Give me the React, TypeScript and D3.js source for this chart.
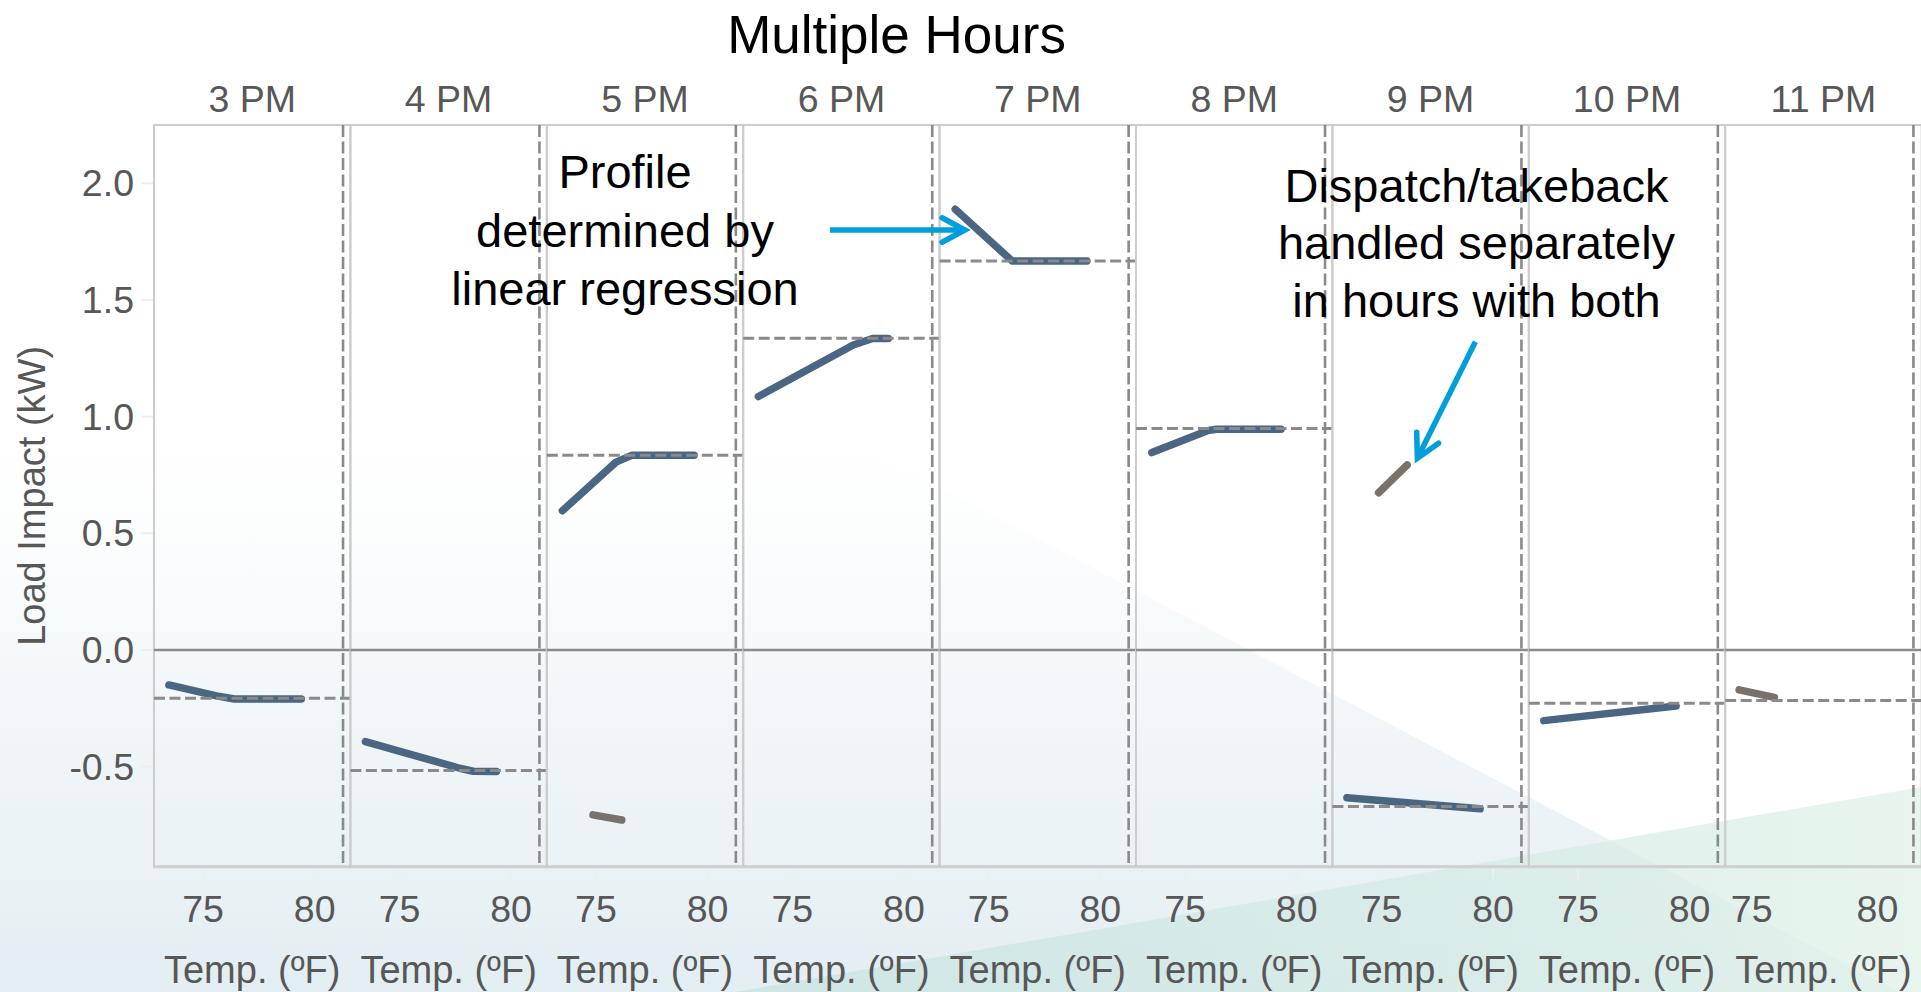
import React from "react";
import * as d3 from "d3";

// ---------- data ----------
const HOURS = ["3 PM", "4 PM", "5 PM", "6 PM", "7 PM", "8 PM", "9 PM", "10 PM", "11 PM"];
const TEMP_MIN = [73.2, 73.2, 73.2, 73.2, 73.2, 73.2, 73.2, 73.2, 74.3];
const TEMP_MAX = [81.2, 81.2, 81.2, 81.2, 81.2, 81.2, 81.2, 81.2, 81.4];
const CUTOFF_TEMP = [81.27, 81.27, 81.27, 81.27, 81.27, 81.27, 81.27, 81.27, 81.43];
const BASELINE = [-0.207, -0.517, 0.835, 1.336, 1.667, 0.949, -0.671, -0.228, -0.217];
const X_TICKS = [75, 80];
const Y_TICKS = [-0.5, 0.0, 0.5, 1.0, 1.5, 2.0];
const Y_DOMAIN = [-0.929, 2.25];

// dispatch profile (temperature, load impact)
const PROFILE: [number, number][][] = [
  [[73.47, -0.15], [75.6, -0.197], [76.4, -0.21], [79.4, -0.21]],
  [[73.47, -0.393], [77.7, -0.507], [78.3, -0.52], [79.34, -0.521]],
  [[73.5, 0.597], [75.9, 0.805], [76.6, 0.834], [79.4, 0.834]],
  [[73.48, 1.086], [77.73, 1.307], [78.6, 1.335], [79.3, 1.335]],
  [[73.5, 1.889], [76.05, 1.667], [79.4, 1.667]],
  [[73.51, 0.846], [76.0, 0.94], [76.4, 0.946], [79.3, 0.946]],
  [[73.45, -0.633], [79.42, -0.681]],
  [[73.47, -0.303], [79.4, -0.24]],
  [],
];
// takeback segments
const TAKEBACK: [number, number][][] = [
  [],
  [],
  [[74.87, -0.707], [76.16, -0.729]],
  [],
  [],
  [],
  [[74.87, 0.674], [76.15, 0.793]],
  [],
  [[74.5, -0.171], [75.9, -0.203]],
];

const TITLE = "Multiple Hours";
const Y_TITLE = "Load Impact (kW)";
const X_TITLE = "Temp. (ºF)";
const NOTE1 = ["Profile", "determined by", "linear regression"];
const NOTE2 = ["Dispatch/takeback", "handled separately", "in hours with both"];

// ---------- layout ----------
const W = 1921;
const H = 992;
const PLOT_LEFT = 154;
const PANEL_W = 196.4;
const PLOT_TOP = 125;
const PLOT_BOTTOM = 866.7;
const FONT = "'Liberation Sans', Arial, Helvetica, sans-serif";
const BLUE = "#4B6682";
const BROWN = "#7A716A";
const ARROW = "#009FDB";
const TEXT_GREY = "#575757";

function arrowHead(x0: number, y0: number, x1: number, y1: number, len: number, ang: number) {
  const dx = x0 - x1, dy = y0 - y1;
  const L = Math.hypot(dx, dy);
  const ux = dx / L, uy = dy / L;
  const r = (a: number) => [x1 + len * (ux * Math.cos(a) - uy * Math.sin(a)), y1 + len * (ux * Math.sin(a) + uy * Math.cos(a))];
  const p1 = r(ang), p2 = r(-ang);
  return `M${p1[0]},${p1[1]}L${x1},${y1}L${p2[0]},${p2[1]}`;
}

export default function App() {
  const y = d3.scaleLinear().domain(Y_DOMAIN).range([PLOT_BOTTOM, PLOT_TOP]);
  const panels = HOURS.map((h, i) => {
    const left = PLOT_LEFT + i * PANEL_W;
    const pad = (TEMP_MAX[i] - TEMP_MIN[i]) * 0.05;
    const x = d3.scaleLinear().domain([TEMP_MIN[i] - pad, TEMP_MAX[i] + pad]).range([left, left + PANEL_W]);
    return { h, i, left, x };
  });

  const arrows = [
    { x0: 830, y0: 230, x1: 965, y1: 230 },
    { x0: 1475.4, y0: 341.7, x1: 1417.4, y1: 458.3 },
  ];

  return (
    <svg width={W} height={H} style={{ position: "absolute", left: 0, top: 0, display: "block" }} fontFamily={FONT}>
      <defs>
        <linearGradient id="tint" gradientUnits="userSpaceOnUse" x1="0" y1="380" x2="0" y2="992">
          <stop offset="0" stopColor="#FFFFFF" stopOpacity="0" />
          <stop offset="0.5" stopColor="#F1F6F8" stopOpacity="0.9" />
          <stop offset="1" stopColor="#E3EEF2" stopOpacity="1" />
        </linearGradient>
        <linearGradient id="teal" gradientUnits="userSpaceOnUse" x1="735" y1="0" x2="1921" y2="0">
          <stop offset="0" stopColor="#C9E4E1" stopOpacity="0.8" />
          <stop offset="0.6" stopColor="#D3EAE4" stopOpacity="0.7" />
          <stop offset="1" stopColor="#E2F2EA" stopOpacity="0.8" />
        </linearGradient>
      </defs>
      <rect x={0} y={0} width={W} height={H} fill="#FFFFFF" />
      <polygon points="0,380 736,380 1899,992 0,992" fill="url(#tint)" />
      <polygon points="735,992 1921,787 1921,992" fill="url(#teal)" />

      {/* title */}
      <text x={896.6} y={52.7} fontSize={53} textAnchor="middle" fill="#000">{TITLE}</text>

      {/* y axis */}
      {Y_TICKS.map((t) => (
        <g key={"yt" + t}>
          <line x1={PLOT_LEFT - 13} x2={PLOT_LEFT} y1={y(t)} y2={y(t)} stroke="#EEEEEE" strokeWidth={2} />
          <text x={134} y={y(t)} dy="0.35em" fontSize={37.5} textAnchor="end" fill={TEXT_GREY}>
            {d3.format(".1f")(t).replace("−", "-")}
          </text>
        </g>
      ))}
      <text transform={`translate(44.6,${(PLOT_TOP + PLOT_BOTTOM) / 2}) rotate(-90)`} fontSize={38} textAnchor="middle" fill={TEXT_GREY}>
        {Y_TITLE}
      </text>

      {/* panels */}
      {panels.map(({ h, i, left, x }) => {
        const line = d3.line<[number, number]>().x((d) => x(d[0])).y((d) => y(d[1]));
        const cx = left + PANEL_W / 2;
        return (
          <g key={h}>
            <text x={cx} y={111.7} fontSize={37.5} textAnchor="middle" fill={TEXT_GREY}>{h}</text>
            <rect x={left} y={PLOT_TOP} width={PANEL_W} height={PLOT_BOTTOM - PLOT_TOP} fill="none" stroke="#CCCCCC" strokeWidth={2} />
            <line x1={left} x2={left + PANEL_W} y1={PLOT_BOTTOM} y2={PLOT_BOTTOM} stroke="#CFCFCF" strokeWidth={3} />
            <line x1={left} x2={left + PANEL_W} y1={y(0)} y2={y(0)} stroke="#8C8C8C" strokeWidth={2.6} />
            {X_TICKS.map((t) => (
              <g key={"xt" + t}>
                <line x1={x(t)} x2={x(t)} y1={PLOT_BOTTOM + 2} y2={PLOT_BOTTOM + 12} stroke="#EEEEEE" strokeWidth={2} />
                <text x={x(t)} y={921.7} fontSize={37.5} textAnchor="middle" fill={TEXT_GREY}>{t}</text>
              </g>
            ))}
            <text x={cx} y={983} fontSize={38} textAnchor="middle" fill={TEXT_GREY}>{X_TITLE}</text>
            {PROFILE[i].length > 0 && (
              <path d={line(PROFILE[i]) || ""} fill="none" stroke={BLUE} strokeWidth={7.5} strokeLinecap="round" strokeLinejoin="round" />
            )}
            {TAKEBACK[i].length > 0 && (
              <path d={line(TAKEBACK[i]) || ""} fill="none" stroke={BROWN} strokeWidth={7.5} strokeLinecap="round" strokeLinejoin="round" />
            )}
            <line x1={left} x2={left + PANEL_W} y1={y(BASELINE[i])} y2={y(BASELINE[i])} stroke="#8A8A8A" strokeWidth={3} strokeDasharray="11,4.5" />
            <line x1={x(CUTOFF_TEMP[i])} x2={x(CUTOFF_TEMP[i])} y1={PLOT_TOP} y2={PLOT_BOTTOM} stroke="#8A8A8A" strokeWidth={2.6} strokeDasharray="12,4.5" />
          </g>
        );
      })}

      {/* annotations */}
      {NOTE1.map((s, k) => (
        <text key={"n1" + k} x={625} y={188.3 + k * 58.3} fontSize={47} textAnchor="middle" fill="#000">{s}</text>
      ))}
      {NOTE2.map((s, k) => (
        <text key={"n2" + k} x={1476.5} y={201.7 + k * 57.5} fontSize={47} textAnchor="middle" fill="#000">{s}</text>
      ))}
      {arrows.map((a, k) => (
        <g key={"ar" + k} stroke={ARROW} strokeWidth={5.5} fill="none">
          <line x1={a.x0} y1={a.y0} x2={a.x1} y2={a.y1} />
          <path d={arrowHead(a.x0, a.y0, a.x1, a.y1, 26, (28 * Math.PI) / 180)} strokeLinejoin="miter" strokeLinecap="round" />
        </g>
      ))}
    </svg>
  );
}
